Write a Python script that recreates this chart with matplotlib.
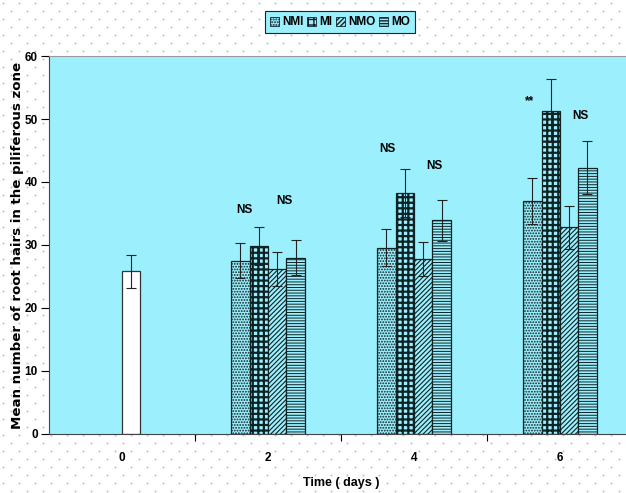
import matplotlib
matplotlib.use("Agg")
import matplotlib.pyplot as plt
from matplotlib.patches import Patch
import numpy as np

plt.rcParams['font.family'] = ['Liberation Sans', 'DejaVu Sans']
plt.rcParams['font.weight'] = 'bold'

# data
days = ['0', '2', '4', '6']
control_mean = 25.8
control_err = 2.6
nmi_mean = [27.5, 29.6, 37.0]
nmi_err = [2.8, 2.9, 3.7]
mi_mean = [29.9, 38.2, 51.3]
mi_err = [3.0, 3.8, 5.0]
nmo_mean = [26.2, 27.7, 32.8]
nmo_err = [2.7, 2.7, 3.4]
mo_mean = [28.0, 33.9, 42.3]
mo_err = [2.8, 3.3, 4.2]

series_names = ['NMI', 'MI', 'NMO', 'MO']
hatches = ['......', '+++', '///////', '------']
hatch_lw = [0.9, 1.6, 0.8, 0.7]

# significance marks: (group index, offset, y, text)
marks = [(1, -0.16, 35.6, 'NS'), (1, 0.11, 37.0, 'NS'),
         (2, -0.18, 45.3, 'NS'), (2, 0.14, 42.5, 'NS'),
         (3, -0.21, 52.8, '**'), (3, 0.14, 50.4, 'NS')]

CYAN = '#9cf0fe'
DARK = '#0f2224'
W = 0.126

fig = plt.figure(figsize=(6.26, 4.93), dpi=100)

# dotted background
bg = fig.add_axes([0, 0, 1, 1], zorder=-5)
bg.set_xlim(0, 626)
bg.set_ylim(493, 0)
bg.axis('off')
dx, dy = [], []
for r, yy in enumerate(np.arange(3, 493, 8)):
    off = 0 if r % 2 == 0 else 8
    for xx in np.arange(3 + off, 626, 16):
        dx.append(xx)
        dy.append(yy)
bg.scatter(dx, dy, s=2.2, color='#b4c6e2', linewidths=0)

ax = fig.add_axes([0.0783, 0.1197, 0.9327, 0.7667])
ax.set_facecolor(CYAN)

x = np.arange(len(days))
ax.bar(x[0], control_mean, width=W, align='edge', color='white',
       edgecolor='#333333', linewidth=0.9, zorder=2)
ax.errorbar(x[0] + W / 2, control_mean, yerr=control_err, fmt='none',
            ecolor='#222222', elinewidth=0.8, capsize=3.5, capthick=0.8, zorder=4)

means = [nmi_mean, mi_mean, nmo_mean, mo_mean]
errs = [nmi_err, mi_err, nmo_err, mo_err]
for i in range(4):
    pos = x[1:] + (i - 2) * W
    with plt.rc_context({'hatch.linewidth': hatch_lw[i]}):
        ax.bar(pos, means[i], width=W, align='edge', color=CYAN,
               edgecolor=DARK, hatch=hatches[i], linewidth=0.9, zorder=2)
    ax.errorbar(pos + W / 2, means[i], yerr=errs[i], fmt='none',
                ecolor='#222222', elinewidth=0.8, capsize=3.5, capthick=0.8, zorder=4)

for g, off, yv, txt in marks:
    ax.text(x[g] + off, yv, txt, ha='center', va='center', fontsize=8.5,
            fontweight='bold')

ax.set_xlim(-0.5, 3.5)
ax.set_ylim(0, 60)
ax.set_yticks(np.arange(0, 61, 10))
ax.set_xticks(x)
ax.set_xticklabels(days)
ax.set_xticks(x[:-1] + 0.5, minor=True)
ax.tick_params(axis='x', which='major', length=0, pad=13, labelsize=8.5)
ax.tick_params(axis='x', which='minor', length=5, width=0.8, direction='out')
ax.tick_params(axis='y', length=6, width=0.8, direction='out', pad=2, labelsize=8.5)

ax.spines['right'].set_visible(False)
ax.spines['top'].set_color('#999999')
ax.spines['left'].set_color('#444444')
ax.spines['bottom'].set_color('#444444')

ax.set_ylabel('Mean number of root hairs in the piliferous zone', fontsize=9.6,
              fontweight='bold', family='DejaVu Sans')
ax.yaxis.set_label_coords(-0.042, 0.5)
ax.set_xlabel('Time ( days )', fontsize=9, fontweight='bold')
ax.xaxis.set_label_coords(0.5, -0.114)

handles = []
for i in range(4):
    with plt.rc_context({'hatch.linewidth': hatch_lw[i]}):
        handles.append(Patch(facecolor=CYAN, edgecolor=DARK,
                             hatch=hatches[i], linewidth=0.6))
leg = fig.legend(handles, series_names, loc='center', bbox_to_anchor=(0.543, 0.955),
                 ncol=4, fontsize=8.5, frameon=True, fancybox=False,
                 handlelength=0.8, handleheight=0.8, handletextpad=0.25,
                 columnspacing=0.3, borderpad=0.4, borderaxespad=0)
leg.get_frame().set_facecolor(CYAN)
leg.get_frame().set_edgecolor('#222222')
leg.get_frame().set_linewidth(0.8)
leg.get_frame().set_alpha(1)

fig.savefig('out.png', dpi=100)
